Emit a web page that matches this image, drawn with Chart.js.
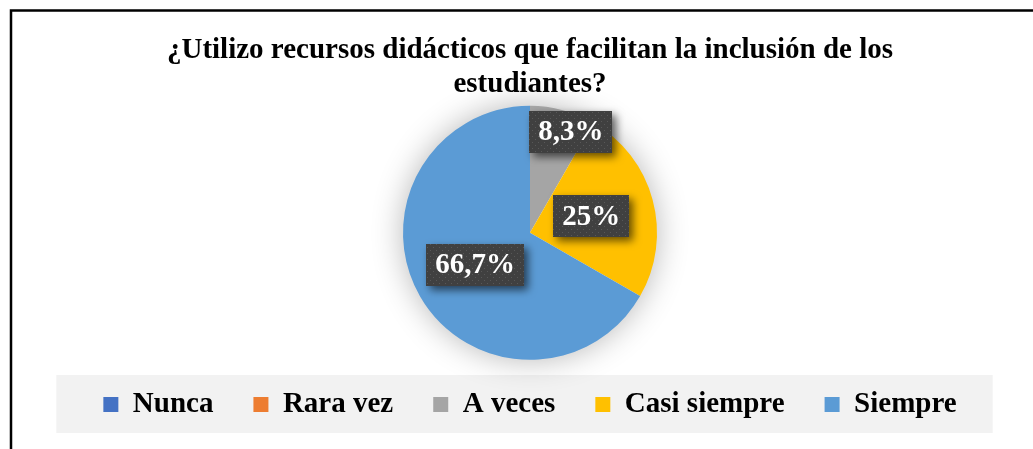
<!DOCTYPE html>
<html>
<head>
<meta charset="utf-8">
<script src="https://cdn.jsdelivr.net/npm/chart.js@4.4.1/dist/chart.umd.min.js"></script>
<style>
  html, body { margin: 0; padding: 0; background: #ffffff; }
  #wrap { width: 1033px; height: 449px; position: relative; }
</style>
</head>
<body>
<div id="wrap"><canvas id="grafico"></canvas></div>
<script>
// Datos del gráfico
const categorias = ['Nunca', 'Rara vez', 'A veces', 'Casi siempre', 'Siempre'];
const porcentajes = [0, 0, 8.3, 25, 66.7];
const colores = ['#4472C4', '#ED7D31', '#A5A5A5', '#FFC000', '#5B9BD5'];
const tituloLineas = ['¿Utilizo recursos didácticos que facilitan la inclusión de los', 'estudiantes?'];

// Colocación de etiquetas (fracción del radio y giro en grados)
const ubicacionEtiquetas = [
  { r: 0.5, giro: 0 },
  { r: 0.5, giro: 0 },
  { r: 0.86, giro: 7 },
  { r: 0.5, giro: 0 },
  { r: 0.5, giro: 0 }
];

const fuente = "'Liberation Serif', 'Times New Roman', serif";

// Trama punteada de las etiquetas
function crearTrama(ctx) {
  const c = document.createElement('canvas');
  c.width = 6; c.height = 6;
  const g = c.getContext('2d');
  g.fillStyle = '#404040';
  g.fillRect(0, 0, 6, 6);
  g.fillStyle = '#585858';
  g.fillRect(1, 1, 1, 1);
  g.fillRect(4, 4, 1, 1);
  return ctx.createPattern(c, 'repeat');
}

const marcoYLeyenda = {
  id: 'marcoYLeyenda',
  beforeDraw(chart) {
    const ctx = chart.ctx;
    const lg = chart.legend;
    ctx.save();
    // Fondo gris de la leyenda
    if (lg && lg.legendHitBoxes && lg.legendHitBoxes.length) {
      const hb = lg.legendHitBoxes;
      const pad = lg.options.labels.padding;
      const cy = lg.top + pad + 29 / 2;
      const izq = hb[0].left - 47;
      const ult = hb[hb.length - 1];
      const der = ult.left + ult.width + 36;
      ctx.fillStyle = '#F2F2F2';
      ctx.fillRect(izq, cy - 29.5, der - izq, 58);
    }
    ctx.restore();
  },
  afterDraw(chart) {
    const ctx = chart.ctx;
    ctx.save();
    ctx.strokeStyle = '#000000';
    ctx.lineWidth = 2.5;
    ctx.strokeRect(11, 10.5, 1200, 600);
    ctx.restore();
  }
};

const sombraTorta = {
  id: 'sombraTorta',
  beforeDatasetsDraw(chart) {
    const arc = chart.getDatasetMeta(0).data[0];
    if (!arc) return;
    const p = arc.getProps(['x', 'y', 'outerRadius'], true);
    const ctx = chart.ctx;
    ctx.save();
    ctx.shadowColor = 'rgba(0,0,0,0.3)';
    ctx.shadowBlur = 32;
    ctx.fillStyle = '#ffffff';
    ctx.beginPath();
    ctx.arc(p.x, p.y, p.outerRadius - 1, 0, Math.PI * 2);
    ctx.fill();
    ctx.restore();
  }
};

const etiquetas = {
  id: 'etiquetas',
  afterDatasetsDraw(chart) {
    const ctx = chart.ctx;
    const trama = crearTrama(ctx);
    const meta = chart.getDatasetMeta(0);
    ctx.save();
    ctx.font = 'bold 29px ' + fuente;
    ctx.textAlign = 'center';
    ctx.textBaseline = 'middle';
    meta.data.forEach((arc, i) => {
      const v = porcentajes[i];
      if (!v) return;
      const p = arc.getProps(['x', 'y', 'startAngle', 'endAngle', 'outerRadius'], true);
      const u = ubicacionEtiquetas[i];
      const a = (p.startAngle + p.endAngle) / 2 + u.giro * Math.PI / 180;
      const cx = p.x + Math.cos(a) * p.outerRadius * u.r;
      const cy = p.y + Math.sin(a) * p.outerRadius * u.r;
      const texto = String(v).replace('.', ',') + '%';
      const w = ctx.measureText(texto).width + 18;
      const h = 42;
      ctx.save();
      ctx.shadowColor = 'rgba(0,0,0,0.6)';
      ctx.shadowBlur = 8;
      ctx.shadowOffsetX = 4;
      ctx.shadowOffsetY = 4;
      ctx.fillStyle = trama;
      ctx.fillRect(Math.round(cx - w / 2), Math.round(cy - h / 2), Math.round(w), h);
      ctx.restore();
      ctx.fillStyle = '#ffffff';
      ctx.fillText(texto, cx, cy + 1);
    });
    ctx.restore();
  }
};

new Chart(document.getElementById('grafico'), {
  type: 'pie',
  data: {
    labels: categorias,
    datasets: [{
      data: porcentajes,
      backgroundColor: colores,
      borderWidth: 0,
      radius: 127,
      clip: false
    }]
  },
  options: {
    responsive: true,
    maintainAspectRatio: false,
    devicePixelRatio: 1,
    animation: false,
    layout: { padding: { top: 0, left: 27, right: 0, bottom: 20 } },
    plugins: {
      tooltip: { enabled: false },
      title: {
        display: true,
        text: tituloLineas,
        color: '#000000',
        font: { family: fuente, size: 29, weight: 'bold', lineHeight: 1.15 },
        padding: { top: 34, bottom: 15 }
      },
      legend: {
        position: 'bottom',
        labels: {
          color: '#000000',
          font: { family: fuente, size: 29, weight: 'bold' },
          boxWidth: 15,
          boxHeight: 15,
          padding: 40
        }
      }
    }
  },
  plugins: [marcoYLeyenda, sombraTorta, etiquetas]
});
</script>
</body>
</html>
